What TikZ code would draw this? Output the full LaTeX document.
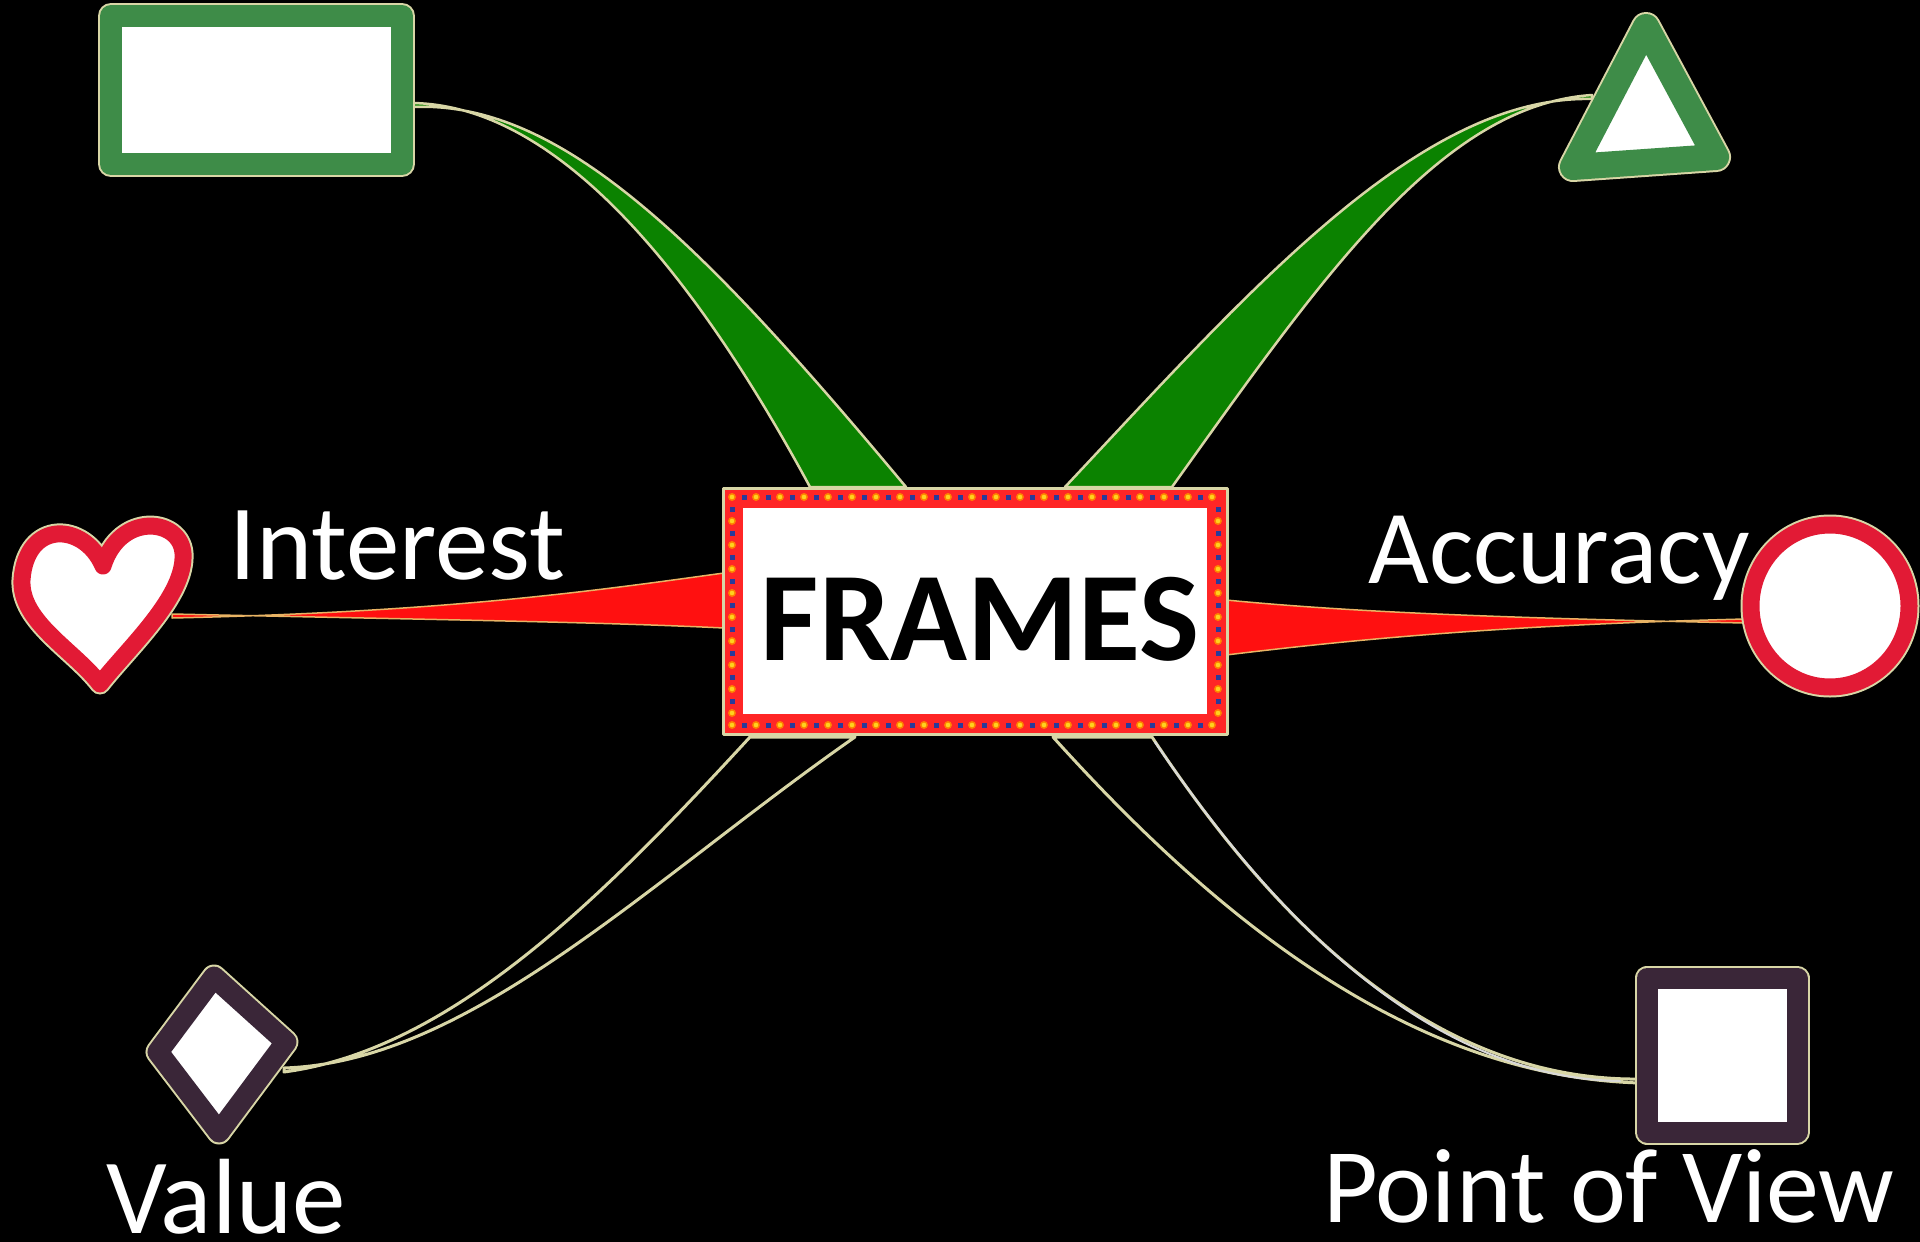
\documentclass[tikz,border=0pt]{standalone}
\usepackage{fontspec}
\setmainfont{Carlito}
\begin{document}
\begin{tikzpicture}[x=1pt,y=-1pt,line join=round,line cap=round]
\definecolor{glow}{HTML}{D8D6A6}
\definecolor{shapegreen}{HTML}{3E8C48}
\definecolor{wedgegreen}{HTML}{0B8200}
\definecolor{heartred}{HTML}{E21A35}
\definecolor{wedgered}{HTML}{FF1010}
\definecolor{boxred}{HTML}{FF2626}
\definecolor{darkpurple}{HTML}{3A2638}
\definecolor{dotyellow}{HTML}{FFD21E}
\definecolor{dotblue}{HTML}{2A3A9A}
\tikzset{
  shp/.style n args={3}{draw=#1, line width=#2, fill=white, preaction={draw=glow, line width=#3}},
  greenwedge/.style={fill=wedgegreen, draw=glow, line width=2.5},
  redwedge/.style={fill=wedgered, draw=glow!60!orange, line width=1.5},
  thinwedge/.style={fill=black, draw=glow, line width=3},
  lbl/.style={text=white, inner sep=0, anchor=base west, font=\fontsize{105}{110}\selectfont},
}
\fill[black] (0,0) rectangle (1920,1242);
\useasboundingbox (0,0) rectangle (1920,1242);

% connector end points
\coordinate (rectR) at (412,104);
\coordinate (triL) at (1592,97);
\coordinate (heartR) at (172,616);
\coordinate (circL) at (1745,621);
\coordinate (diaR) at (284,1070);
\coordinate (sqL) at (1641,1081);

% green wedges
\draw[greenwedge] ([yshift=1]rectR) .. controls (555,105) and (690,265) .. (810,487)
   -- (906,487) .. controls (700,240) and (560,100) .. ([yshift=-3]rectR) -- cycle;
\draw[greenwedge] (1065,487) .. controls (1250,290) and (1420,95) .. ([yshift=-2]triL)
   -- ([yshift=2]triL) .. controls (1440,105) and (1320,280) .. (1172,487) -- cycle;
% red wedges
\draw[redwedge] ([yshift=-2]heartR) .. controls (450,612) and (600,590) .. (724,573)
   -- (724,628) .. controls (600,622) and (450,620) .. ([yshift=2]heartR) -- cycle;
\draw[redwedge] (1226,600) .. controls (1350,612) and (1500,618) .. ([yshift=-2]circL)
   -- ([yshift=2]circL) .. controls (1500,625) and (1350,640) .. (1226,655) -- cycle;
% thin outlined wedges
\draw[thinwedge] ([yshift=-2]diaR) .. controls (450,1050) and (600,900) .. (750,737)
   -- (855,737) .. controls (650,880) and (470,1062) .. ([yshift=2]diaR) -- cycle;
\draw[thinwedge] (1053,737) .. controls (1200,900) and (1400,1077) .. ([yshift=-2]sqL)
   -- ([yshift=2]sqL) .. controls (1420,1082) and (1260,900) .. (1152,737) -- cycle;
\draw[white!70!gray, line width=2] (1155,742) .. controls (1262,900) and (1420,1078) .. (1620,1081);

% shapes
\draw[shp={shapegreen}{22}{26}] (111,16) rectangle (402,164);
\node[inner sep=0] (rect) at (256,90) {};
\draw[shp={shapegreen}{26}{30}] (1646,27) -- (1716,157) -- (1573,167) -- cycle;
\node[inner sep=0] (tri) at (1645,120) {};
\draw[shp={heartred}{17}{21}] (103,566) .. controls (84,522) and (26,520) .. (22,580)
   .. controls (20,622) and (74,650) .. (100,684)
   .. controls (128,648) and (186,596) .. (183,553)
   .. controls (180,518) and (120,512) .. (103,566) -- cycle;
\node[inner sep=0] (heart) at (100,600) {};
\draw[shp={heartred}{17}{21}] (1830,606) ellipse[x radius=79, y radius=81];
\node[inner sep=0] (circ) at (1830,606) {};
\draw[shp={darkpurple}{21}{25}] (214,977) -- (286,1042) -- (219,1132) -- (158,1052) -- cycle;
\node[inner sep=0] (dia) at (220,1052) {};
\draw[shp={darkpurple}{21}{25}] (1647,978) rectangle (1797,1132);
\node[inner sep=0] (sq) at (1722,1055) {};

% central box
\node[draw=glow, line width=3, fill=boxred, minimum width=504, minimum height=246, inner sep=0] (box) at (975,611) {};
\fill[white] (743,508) rectangle (1207,714);
\foreach \i in {0,...,40} {
  \pgfmathsetmacro\xx{732+\i*12}
  \ifodd\i
    \fill[dotblue] (\xx-2.5,494.5) rectangle (\xx+2.5,499.5);
    \fill[dotblue] (\xx-2.5,722.5) rectangle (\xx+2.5,727.5);
  \else
    \fill[orange] (\xx,497) circle[radius=4];
    \fill[dotyellow] (\xx,497) circle[radius=2.3];
    \fill[orange] (\xx,725) circle[radius=4];
    \fill[dotyellow] (\xx,725) circle[radius=2.3];
  \fi
}
\foreach \i in {1,...,18} {
  \pgfmathsetmacro\yy{497+\i*12}
  \ifodd\i
    \fill[dotblue] (729.5,\yy-2.5) rectangle (734.5,\yy+2.5);
    \fill[dotblue] (1215.5,\yy-2.5) rectangle (1220.5,\yy+2.5);
  \else
    \fill[orange] (732,\yy) circle[radius=4];
    \fill[dotyellow] (732,\yy) circle[radius=2.3];
    \fill[orange] (1218,\yy) circle[radius=4];
    \fill[dotyellow] (1218,\yy) circle[radius=2.3];
  \fi
}
\node[inner sep=0, font=\fontsize{127}{130}\selectfont\bfseries, text=black] (frames) at (980,619) {FRAMES};

% labels
\node[lbl, font=\fontsize{107}{110}\selectfont] (interest) at (229,579) {Interest};
\node[lbl] (accuracy) at (1368,583) {Accuracy};
\node[lbl, font=\fontsize{107}{110}\selectfont] (value) at (106,1233) {Value};
\node[lbl, font=\fontsize{106}{110}\selectfont] (pov) at (1323,1222) {Point of View};
\end{tikzpicture}
\end{document}
